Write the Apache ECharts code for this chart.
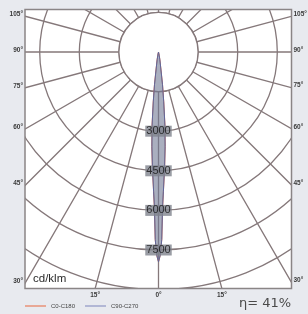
<!DOCTYPE html>
<html><head><meta charset="utf-8">
<script src="https://cdn.jsdelivr.net/npm/echarts@6/dist/echarts.min.js"></script>
<style>html,body{margin:0;padding:0;background:#e8eaef;}#c{width:308px;height:314px;}</style>
</head><body><div id="c"></div>
<script>
// Photometric data (cd/klm) vs half-angle (deg) from nadir
const halfAngles = [0, 0.5, 1, 1.5, 2, 3, 4, 5, 6, 7, 8, 10, 12, 15, 20, 30];
const c0c180 = [7950, 7700, 7100, 5900, 5300, 4400, 3600, 2800, 1900, 1250, 650, 300, 120, 40, 10, 0];
const c90c270 = [7950, 7700, 7100, 5900, 5300, 4400, 3600, 2800, 1900, 1250, 650, 300, 120, 40, 10, 0];
const ringLabels = [3000, 4500, 6000, 7500];
const sideTicks = [30, 45, 60, 75, 90, 105];
const bottomTicks = [-15, 0, 15];
const seriesNames = ['C0-C180', 'C90-C270'];
const efficiency = 'η= 41%';
const unitLabel = 'cd/klm';

const cx = 158.5, cy = 52, pxPer1500 = 39.6;
const rMax = 10500;
const box = {x0: 25, y0: 9.5, x1: 291.5, y1: 288.5};
const bg = '#e8eaef';
const gridColor = '#85787a';

function curve(vals) {
  const d = [];
  for (let i = halfAngles.length - 1; i >= 1; i--) d.push([vals[i], 360 - halfAngles[i]]);
  for (let i = 0; i < halfAngles.length; i++) d.push([vals[i], halfAngles[i]]);
  return d;
}

const graphics = [];
graphics.push({type: 'circle', shape: {cx: cx, cy: cy, r: pxPer1500}, style: {fill: '#fff', stroke: gridColor, lineWidth: 1.3}, z: 1});
graphics.push({type: 'rect', shape: {x: 0, y: 0, width: 308, height: box.y0}, style: {fill: bg}, z: 100});
graphics.push({type: 'rect', shape: {x: 0, y: 0, width: box.x0, height: 314}, style: {fill: bg}, z: 100});
graphics.push({type: 'rect', shape: {x: box.x1, y: 0, width: 308 - box.x1, height: 314}, style: {fill: bg}, z: 100});
graphics.push({type: 'rect', shape: {x: 0, y: box.y1, width: 308, height: 314 - box.y1}, style: {fill: bg}, z: 100});
graphics.push({type: 'rect', shape: {x: box.x0, y: box.y0, width: box.x1 - box.x0, height: box.y1 - box.y0}, style: {fill: null, stroke: '#8a8586', lineWidth: 1.5}, z: 101});
const tickFont = {fontSize: 6.5, fontFamily: 'Liberation Sans', fill: '#3a3a3a', fontWeight: 'bold'};
sideTicks.forEach(a => {
  const t = a * Math.PI / 180;
  const yl = cy + (cx - box.x0) / Math.tan(t);
  const yr = cy + (box.x1 - cx) / Math.tan(t);
  graphics.push({type: 'text', x: box.x0 - 2, y: Math.max(yl - 2, 13), style: Object.assign({text: a + '°', align: 'right', verticalAlign: 'middle'}, tickFont), z: 102});
  graphics.push({type: 'text', x: box.x1 + 2, y: Math.max(yr - 2, 13), style: Object.assign({text: a + '°', align: 'left', verticalAlign: 'middle'}, tickFont), z: 102});
});
bottomTicks.forEach(a => {
  const t = a * Math.PI / 180;
  const x = cx + (box.y1 - cy) * Math.tan(t);
  graphics.push({type: 'text', x: x, y: box.y1 + 7, style: Object.assign({text: Math.abs(a) + '°', align: 'center', verticalAlign: 'middle'}, tickFont), z: 102});
});
graphics.push({type: 'text', x: 33, y: 279, style: {text: unitLabel, fontSize: 11.5, fontFamily: 'Liberation Sans', fill: '#2a2a2a', align: 'left', verticalAlign: 'middle'}, z: 102});
graphics.push({type: 'text', x: 239, y: 304, style: {text: efficiency, fontSize: 13, fontFamily: 'DejaVu Sans', fill: '#4a4a4a', align: 'left', verticalAlign: 'middle'}, z: 102});

const chart = echarts.init(document.getElementById('c'), null, {renderer: 'canvas'});
chart.setOption({
  backgroundColor: '#fff',
  animation: false,
  polar: {center: [cx, cy], radius: rMax / 1500 * pxPer1500},
  angleAxis: {type: 'value', min: 0, max: 360, interval: 15, startAngle: 270, clockwise: true,
    axisLine: {show: false}, axisTick: {show: false}, axisLabel: {show: false},
    splitLine: {show: true, lineStyle: {color: gridColor, width: 1.3}}},
  radiusAxis: {type: 'value', min: 0, max: rMax, interval: 1500,
    axisLine: {show: false}, axisTick: {show: false}, axisLabel: {show: false},
    splitLine: {show: true, lineStyle: {color: gridColor, width: 1.3}}},
  legend: {left: 25, top: 303, padding: 0, z: 120, itemWidth: 21, itemHeight: 1, icon: 'rect', itemGap: 10,
    textStyle: {fontSize: 6, color: '#444', fontFamily: 'Liberation Sans'}, data: seriesNames},
  graphic: graphics,
  series: [
    {name: seriesNames[0], type: 'line', coordinateSystem: 'polar', data: curve(c0c180), symbol: 'none', color: '#e8673c',
      lineStyle: {color: '#e8673c', width: 1}, z: 3},
    {name: seriesNames[1], type: 'line', coordinateSystem: 'polar', data: curve(c90c270), symbol: 'none', color: '#7d84bb',
      lineStyle: {color: '#5f689c', width: 1}, areaStyle: {color: 'rgba(112,120,148,0.85)'}, z: 4},
    {type: 'scatter', coordinateSystem: 'polar', data: ringLabels.map(v => [v, 0]), symbolSize: 0, z: 6,
      label: {show: true, position: 'inside', formatter: p => String(p.value[0]), fontSize: 11, fontFamily: 'Liberation Sans',
        color: '#111', backgroundColor: '#80838d', padding: [0, 1, 0, 1], lineHeight: 11}}
  ]
});
</script></body></html>
